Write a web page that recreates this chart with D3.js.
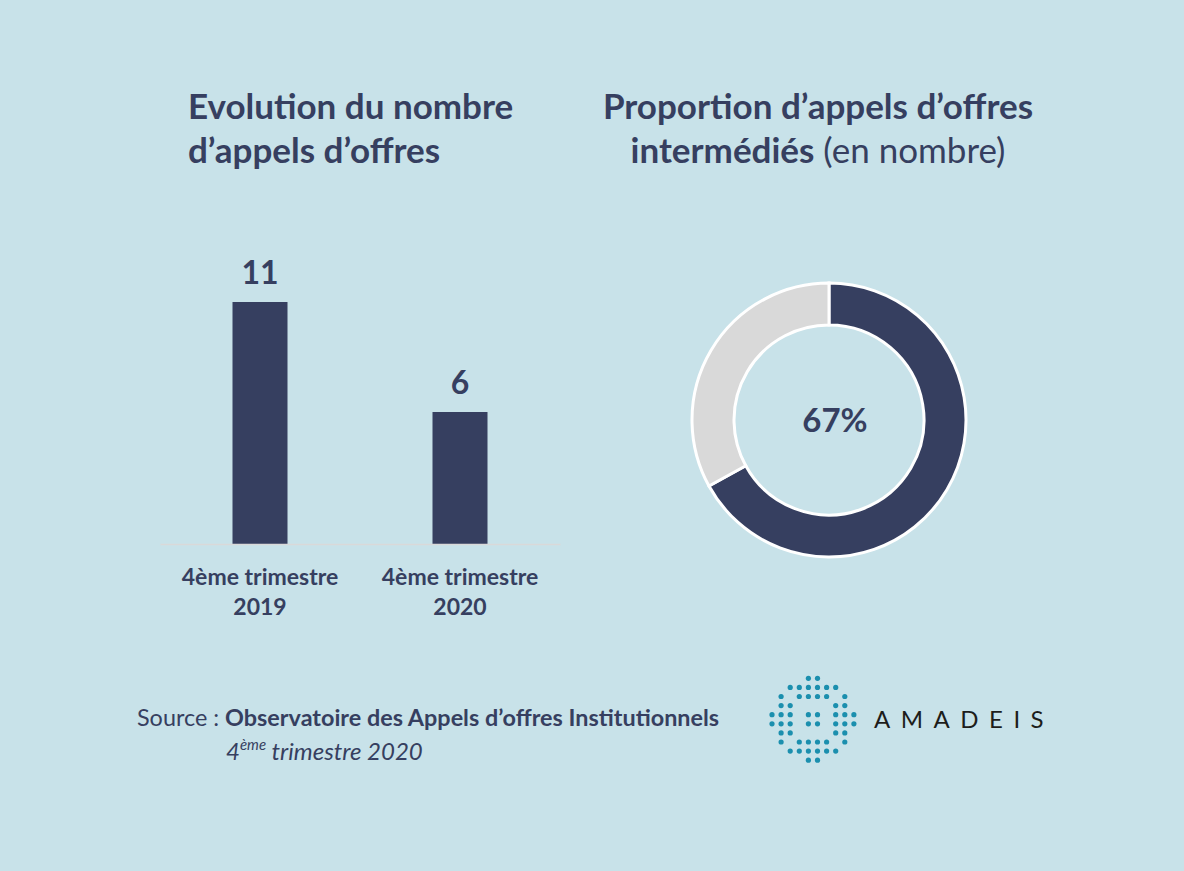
<!DOCTYPE html>
<html><head><meta charset="utf-8">
<script src="https://cdn.jsdelivr.net/npm/d3@7"></script>
<style>
html,body{margin:0;padding:0;background:#c8e2e9;}
svg{display:block;}
text{font-family:Lato,"Open Sans",sans-serif;}
</style></head>
<body>
<svg id="c" width="1184" height="871"></svg>
<script>
// ---- data ----
const categories = ["4ème trimestre\n2019", "4ème trimestre\n2020"];
const barValues = [11, 6];
const donutLabels = ["Intermédiés", "Non intermédiés"];
const donutValues = [67, 33];
const donutCenterLabel = "67%";
const leftTitle = ["Evolution du nombre", "d’appels d’offres"];
const rightTitle = ["Proportion d’appels d’offres", "intermédiés"];
const rightTitleSuffix = " (en nombre)";
const logoPattern = [
  "....##....",
  "..######..",
  ".#.####.#.",
  ".##....##.",
  "###.##.###",
  "###.##.###",
  ".##....##.",
  ".#.####.#.",
  "..######..",
  "....##...."
];

const W = 1184, H = 871;
const navy = "#363f60", grey = "#d9d9d9";
const svg = d3.select("#c");
svg.append("rect").attr("width", W).attr("height", H).attr("fill", "#c8e2e9");

// ---- titles ----
svg.append("text").attr("x", 188).attr("y", 119).attr("font-size", 35).attr("font-weight", 700)
  .attr("fill", navy).text(leftTitle[0]);
svg.append("text").attr("x", 188).attr("y", 163).attr("font-size", 35).attr("font-weight", 700)
  .attr("fill", navy).text(leftTitle[1]);
svg.append("text").attr("x", 818).attr("y", 119).attr("text-anchor", "middle").attr("font-size", 35).attr("font-weight", 700)
  .attr("fill", navy).text(rightTitle[0]);
const t2 = svg.append("text").attr("x", 818).attr("y", 163).attr("text-anchor", "middle").attr("font-size", 35)
  .attr("fill", navy);
t2.append("tspan").attr("font-weight", 700).text(rightTitle[1]);
t2.append("tspan").attr("font-weight", 400).text(rightTitleSuffix);

// ---- bar chart ----
const x = d3.scaleBand().domain(categories).range([160, 560]).paddingInner(0.725).paddingOuter(0.3625);
const y = d3.scaleLinear().domain([0, 11]).range([544, 302]);

svg.selectAll("rect.bar").data(barValues).join("rect").attr("class", "bar")
  .attr("x", (d, i) => x(categories[i])).attr("width", x.bandwidth())
  .attr("y", d => y(d)).attr("height", d => y(0) - y(d)).attr("fill", navy);

svg.selectAll("text.val").data(barValues).join("text").attr("class", "val")
  .attr("x", (d, i) => x(categories[i]) + x.bandwidth() / 2).attr("y", d => y(d) - 18)
  .attr("text-anchor", "middle").attr("font-size", 32).attr("font-weight", 700).attr("fill", navy)
  .text(d => d);

const xAxis = svg.append("g").attr("transform", `translate(0,${y(0)})`)
  .call(d3.axisBottom(x).tickSize(0).tickPadding(0).tickFormat(() => ""));
xAxis.select(".domain").attr("stroke", grey).attr("stroke-width", 1.5);
xAxis.selectAll(".tick text").remove();
xAxis.selectAll(".tick").each(function (d) {
  const lines = d.split("\n");
  const t = d3.select(this).append("text").attr("text-anchor", "middle")
    .attr("font-size", 23).attr("font-weight", 700).attr("fill", navy);
  lines.forEach((l, i) => t.append("tspan").attr("x", 0).attr("y", 41 + i * 30).text(l));
});

// ---- donut ----
const cx = 829, cy = 420;
const pie = d3.pie().sort(null).value(d => d);
const arc = d3.arc().innerRadius(95).outerRadius(137);
const g = svg.append("g").attr("transform", `translate(${cx},${cy})`);
g.selectAll("path").data(pie(donutValues)).join("path")
  .attr("d", arc).attr("fill", (d, i) => i === 0 ? navy : grey)
  .attr("stroke", "#fff").attr("stroke-width", 3);
g.append("text").attr("x", 6).attr("y", 12).attr("text-anchor", "middle").attr("font-size", 33)
  .attr("font-weight", 700).attr("fill", navy).text(donutCenterLabel);

// ---- source ----
const s = svg.append("text").attr("x", 137).attr("y", 726).attr("font-size", 23.4).attr("fill", navy);
s.append("tspan").text("Source : ");
s.append("tspan").attr("font-weight", 700).text("Observatoire des Appels d’offres Institutionnels");
const s2 = svg.append("text").attr("x", 226).attr("y", 760).attr("font-size", 24).attr("font-style", "italic").attr("fill", navy);
s2.append("tspan").text("4");
s2.append("tspan").attr("font-size", 15).attr("dy", -10).text("ème");
s2.append("tspan").attr("dy", 10).text(" trimestre 2020");

// ---- logo ----
const lg = svg.append("g");
logoPattern.forEach((row, r) => {
  row.split("").forEach((c, k) => {
    if (c === "#") lg.append("circle").attr("cx", 772 + k * 9.1).attr("cy", 678.3 + r * 9.1).attr("r", 2.6).attr("fill", "#1b8fae");
  });
});
svg.append("text").attr("x", 874).attr("y", 728).attr("font-size", 24).attr("fill", "#1d1d1b")
  .attr("letter-spacing", 10.5).text("AMADEIS");
</script>
</body></html>
